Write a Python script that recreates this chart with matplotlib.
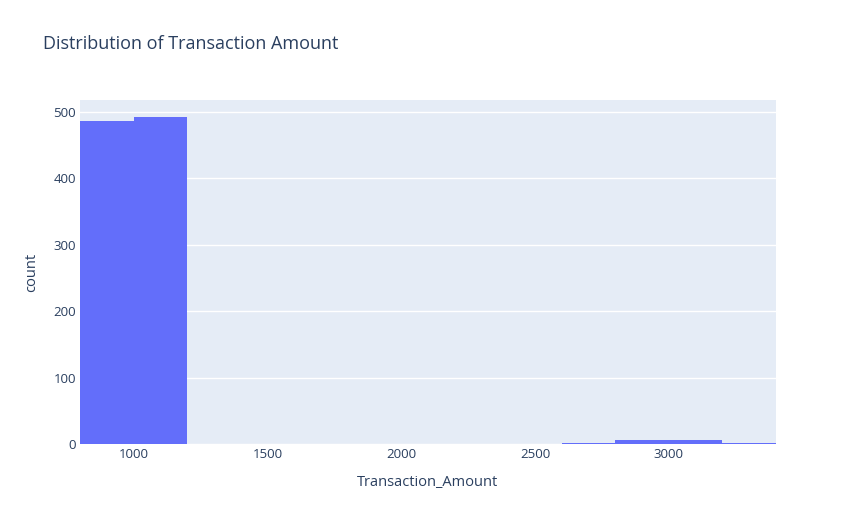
import matplotlib
matplotlib.use("Agg")
import matplotlib.pyplot as plt
import numpy as np

# Histogram bins of Transaction_Amount (bin width 200)
bin_edges = [800, 1000, 1200, 1400, 1600, 1800, 2000, 2200, 2400, 2600, 2800, 3000, 3200, 3400]
counts = [487, 492, 0, 0, 0, 0, 0, 0, 0, 2, 6, 6, 1]

x_ticks = [1000, 1500, 2000, 2500, 3000]
y_ticks = [0, 100, 200, 300, 400, 500]

plt.rcParams['font.family'] = ['Open Sans', 'DejaVu Sans']
text_color = '#2a3f5f'

fig = plt.figure(figsize=(8.57, 5.25), dpi=100)
ax = fig.add_axes([80 / 857, 81 / 525, 696 / 857, 344 / 525])
ax.set_facecolor('#E5ECF6')

widths = np.diff(bin_edges)
ax.bar(bin_edges[:-1], counts, width=widths, align='edge', color='#636EFA', linewidth=0, zorder=2)

ax.set_xlim(bin_edges[0], bin_edges[-1])
ax.set_ylim(0, 518)
ax.set_xticks(x_ticks)
ax.set_yticks(y_ticks)
ax.grid(axis='y', color='white', linewidth=1, zorder=1)
ax.set_axisbelow(True)
for s in ax.spines.values():
    s.set_visible(False)
ax.tick_params(length=0, labelsize=9.5, colors=text_color)
ax.tick_params(axis='x', pad=3)
ax.tick_params(axis='y', pad=3)

ax.set_xlabel('Transaction_Amount', fontsize=10.5, color=text_color, labelpad=10)
ax.set_ylabel('count', fontsize=10.5, color=text_color, labelpad=10)
fig.text(43 / 857, 1 - 44 / 525, 'Distribution of Transaction Amount', fontsize=13,
         color=text_color, va='center', ha='left')

fig.savefig('out.png', dpi=100)
